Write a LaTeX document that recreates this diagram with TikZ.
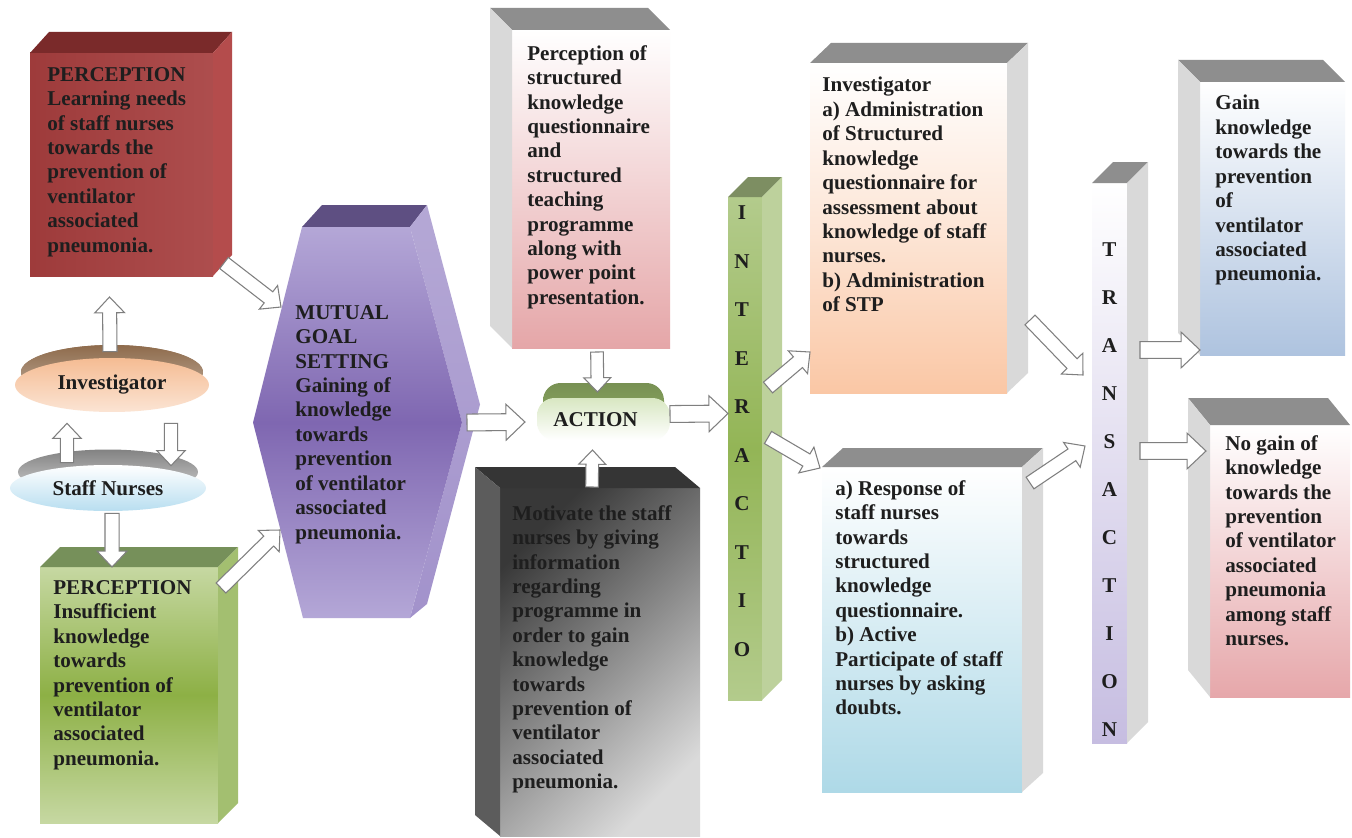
\documentclass[tikz,border=0pt]{standalone}
\usepackage{fontspec}
\setmainfont{Liberation Serif}
\usepackage{tikz}
\usetikzlibrary{calc,fit,positioning,shapes.geometric}
\definecolor{inktext}{HTML}{1E1E1E}
\definecolor{arrowgray}{HTML}{7F7F7F}
\definecolor{boxtop}{HTML}{8E8E8E}
\definecolor{boxside}{HTML}{D9D9D9}
\definecolor{redfront}{HTML}{A63E3E}
\definecolor{redtop}{HTML}{7A2A2A}
\definecolor{redside}{HTML}{B44C4C}
\definecolor{greenfront}{HTML}{8DB045}
\definecolor{greenlight}{HTML}{C6D8A2}
\definecolor{greentop}{HTML}{76905A}
\definecolor{greenside}{HTML}{A3BF70}
\definecolor{goalmid}{HTML}{7F67B1}
\definecolor{goallight}{HTML}{B4A7D7}
\definecolor{goaltop}{HTML}{5E4F82}
\definecolor{goalside}{HTML}{A292CB}
\definecolor{planpink}{HTML}{E5A6A8}
\definecolor{motivdark}{HTML}{383838}
\definecolor{motivlight}{HTML}{DADADA}
\definecolor{motivtop}{HTML}{353535}
\definecolor{motivside}{HTML}{5C5C5C}
\definecolor{actiongreen}{HTML}{8DAA62}
\definecolor{actionlight}{HTML}{D8E7C2}
\definecolor{colgreen}{HTML}{93B556}
\definecolor{colgreenlight}{HTML}{B3CB8C}
\definecolor{colgreentop}{HTML}{7D8E62}
\definecolor{colgreenside}{HTML}{BDD19C}
\definecolor{invpeach}{HTML}{FAC7A5}
\definecolor{respblue}{HTML}{AED9E7}
\definecolor{translav}{HTML}{C6BDE1}
\definecolor{gainblue}{HTML}{AEC3DF}
\definecolor{nogainpink}{HTML}{E6A7AA}
\definecolor{diskpeach}{HTML}{F5BC93}
\definecolor{diskbrown}{HTML}{8E6B4C}
\definecolor{diskblue}{HTML}{B8DEF0}
\definecolor{diskgray}{HTML}{A3A3A3}

\newcommand{\boxfont}{\fontsize{12}{13.9}\selectfont\bfseries}

\newcommand{\depthright}[5]{%
  \fill[#4] (#1.north west) -- ++(#2,-#3) -- ($(#1.north east)+(#2,-#3)$) -- (#1.north east) -- cycle;
  \fill[#5] (#1.north east) -- ++(#2,-#3) -- ($(#1.south east)+(#2,-#3)$) -- (#1.south east) -- cycle;}
\newcommand{\depthleft}[5]{%
  \fill[#4] (#1.north east) -- ++(-#2,-#3) -- ($(#1.north west)+(-#2,-#3)$) -- (#1.north west) -- cycle;
  \fill[#5] (#1.north west) -- ++(-#2,-#3) -- ($(#1.south west)+(-#2,-#3)$) -- (#1.south west) -- cycle;}
\newcommand{\blockarrow}[3][1]{%
  \coordinate (arrowneck) at ($(#3)!#1*9pt!(#2)$);
  \draw[blockarr] ($(#2)!#1*4pt!90:(#3)$) -- ($(arrowneck)!#1*4pt!90:(#3)$)
    -- ($(arrowneck)!#1*8.5pt!90:(#3)$) -- (#3)
    -- ($(arrowneck)!#1*8.5pt!-90:(#3)$) -- ($(arrowneck)!#1*4pt!-90:(#3)$)
    -- ($(#2)!#1*4pt!-90:(#3)$) -- cycle;}

\begin{document}
\begin{tikzpicture}[
  x=0.02cm,
  y=-0.02cm,
  face/.style={inner sep=0pt, outer sep=0pt},
  txt/.style={font=\boxfont, align=left, inner sep=0pt, anchor=north west, text=inktext},
  letter/.style={font=\boxfont, inner sep=0pt, text=inktext},
  disk/.style={ellipse, inner sep=0pt, font=\boxfont, text=inktext},
  blockarr/.style={draw=arrowgray, fill=white, line width=0.6pt, line join=miter}
]

\fill[white] (0,0) rectangle (1352,838);
\useasboundingbox (0,0) rectangle (1352,838);

\node[face, fit={(30,53) (213,276)}, left color=redfront!95!black, right color=redfront!92!white] (percA) {};
\depthright{percA}{19}{21}{redtop}{redside}
\node[txt] (percAtext) at ($(percA.north west)+(17,14)$)
  {PERCEPTION\\Learning needs\\of staff nurses\\towards the\\prevention of\\ventilator\\associated\\pneumonia.};

\node[face, fit={(40,567) (218,823)}, top color=greenlight, bottom color=greenlight, middle color=greenfront] (percB) {};
\depthright{percB}{20}{20}{greentop}{greenside}
\node[txt] (percBtext) at ($(percB.north west)+(13,13)$)
  {PERCEPTION\\Insufficient\\knowledge\\towards\\prevention of\\ventilator\\associated\\pneumonia.};

\node[disk, fill=diskbrown, top color=diskbrown, bottom color=diskbrown!55!white,
  minimum width=3.64cm, minimum height=1.08cm] (invcap) at (112,372) {};
\node[disk, top color=diskpeach, bottom color=diskpeach!40!white,
  minimum width=3.88cm, minimum height=1.08cm] (invdisk) at (112,385) {Investigator};
\node[disk, top color=diskgray!80!black, bottom color=diskgray!50!white,
  minimum width=3.6cm, minimum height=0.9cm] (staffcap) at (108,472) {};
\node[disk, top color=white, bottom color=diskblue,
  minimum width=3.92cm, minimum height=0.92cm] (staffdisk) at (108,488) {Staff Nurses};

\node[face, fit={(253,227) (462,618)}] (goal) {};
\fill[goaltop] ($(goal.north west)+(49,0)$) -- ++(20,-22) -- ($(goal.north east)+(-35,-22)$)
  -- ($(goal.north east)+(-52,0)$) -- cycle;
\shade[top color=goalside!80!white, bottom color=goalside] ($(goal.north east)+(-52,0)$) -- ++(17,-22)
  -- ($(goal.east)+(18,-18)$) -- ($(goal.south east)+(-35,-14)$) -- ($(goal.south east)+(-52,0)$)
  -- (goal.east) -- cycle;
\shade[top color=goallight, bottom color=goallight, middle color=goalmid]
  ($(goal.north west)+(49,0)$) -- ($(goal.north east)+(-52,0)$) -- (goal.east)
  -- ($(goal.south east)+(-52,0)$) -- ($(goal.south west)+(50,0)$) -- (goal.west) -- cycle;
\node[txt] (goaltext) at ($(goal.north west)+(42,78)$)
  {MUTUAL\\GOAL\\SETTING\\Gaining of\\knowledge\\towards\\prevention\\of ventilator\\associated\\pneumonia.};

\node[face, fit={(512,30) (670,348)}, top color=white, bottom color=planpink] (plan) {};
\depthleft{plan}{22}{22}{boxtop}{boxside}
\node[txt] (plantext) at ($(plan.north west)+(15,15)$)
  {Perception of\\structured\\knowledge\\questionnaire\\and\\structured\\teaching\\programme\\along with\\power point\\presentation.};

\node[face, fit={(543,383) (664,425)}, rounded corners=10pt, top color=actiongreen!85!black, bottom color=actiongreen] (actioncap) {};
\node[face, fit={(537,398) (670,440)}, rounded corners=10pt, top color=actionlight, bottom color=white] (action) {};
\node[letter] (actiontext) at ($(action.center)+(-8,1)$) {ACTION};

\node[face, fit={(500,488) (700,836)}, top color=motivdark, bottom color=motivlight, shading angle=45] (motiv) {};
\depthleft{motiv}{25}{21}{motivtop}{motivside}
\node[txt] (motivtext) at ($(motiv.north west)+(12,17)$)
  {Motivate the staff\\nurses by giving\\information\\regarding\\programme in\\order to gain\\knowledge\\towards\\prevention of\\ventilator\\associated\\pneumonia.};

\node[face, fit={(728,197) (762,700)}, top color=colgreenlight, bottom color=colgreenlight, middle color=colgreen] (interCol) {};
\depthright{interCol}{20}{20}{colgreentop}{colgreenside}
\foreach \ch [count=\i] in {I,N,T,E,R,A,C,T,I,O}
  \node[letter] (interL\i) at ($(interCol.north)+(-3,{16+(\i-1)*48.5})$) {\ch};

\node[face, fit={(810,63) (1007,393)}, top color=white, bottom color=invpeach, middle color=invpeach!45!white] (inv) {};
\depthright{inv}{21}{20}{boxtop}{boxside}
\node[txt] (invtext) at ($(inv.north west)+(12,14)$)
  {Investigator\\a) Administration\\of Structured\\knowledge\\questionnaire for\\assessment about\\knowledge of staff\\nurses.\\b) Administration\\of STP};

\node[face, fit={(822,467) (1022,792)}, top color=white, bottom color=respblue] (resp) {};
\depthright{resp}{21}{19}{boxtop}{boxside}
\node[txt] (resptext) at ($(resp.north west)+(13,13)$)
  {a) Response of\\staff nurses\\towards\\structured\\knowledge\\questionnaire.\\b) Active\\Participate of staff\\nurses by asking\\doubts.};

\node[face, fit={(1092,183) (1127,743)}, top color=white, bottom color=translav] (transCol) {};
\depthright{transCol}{21}{21}{boxtop}{boxside}
\foreach \ch [count=\i] in {T,R,A,N,S,A,C,T,I,O,N}
  \node[letter] (transL\i) at ($(transCol.north)+(0,{67+(\i-1)*48})$) {\ch};

\node[face, fit={(1200,82) (1345,355)}, top color=white, bottom color=gainblue] (gain) {};
\depthleft{gain}{22}{22}{boxtop}{boxside}
\node[txt] (gaintext) at ($(gain.north west)+(15,13)$)
  {Gain\\knowledge\\towards the\\prevention\\of\\ventilator\\associated\\pneumonia.};

\node[face, fit={(1210,425) (1350,697)}, top color=white, bottom color=nogainpink] (nogain) {};
\depthleft{nogain}{22}{27}{boxtop}{boxside}
\node[txt] (nogaintext) at ($(nogain.north west)+(15,10)$)
  {No gain of\\knowledge\\towards the\\prevention\\of ventilator\\associated\\pneumonia\\among staff\\nurses.};

\coordinate (percA-out) at ($(percA.south east)+(11,-13)$);
\coordinate (goal-inA) at ($(goal.north west)+(28,80)$);
\coordinate (percB-out) at ($(percB.north east)+(3,21)$);
\coordinate (goal-inB) at ($(goal.south west)+(27,-88)$);
\coordinate (invdisk-up) at ($(invdisk.north)+(-2,-6)$);
\coordinate (percA-in) at ($(percA.south)+(-12,21)$);
\coordinate (staffdisk-up) at ($(staffdisk.north)+(-41,-2)$);
\coordinate (invdisk-inS) at ($(invdisk.south)+(-45,11)$);
\coordinate (invdisk-down) at ($(invdisk.south)+(59,11)$);
\coordinate (staffdisk-inI) at ($(staffdisk.north)+(63,1)$);
\coordinate (staffdisk-down) at ($(staffdisk.south)+(4,2)$);
\coordinate (percB-in) at ($(percB.north)+(-17,0)$);
\coordinate (goal-out) at ($(goal.east)+(5,0)$);
\coordinate (action-inG) at ($(action.west)+(-12,3)$);
\coordinate (action-out) at ($(action.east)+(0,-5)$);
\coordinate (interCol-in) at ($(interCol.west)+(0,-35)$);
\coordinate (plan-out) at ($(plan.south)+(6,4)$);
\coordinate (action-inP) at ($(action.north)+(-6,-6)$);
\coordinate (motiv-out) at ($(motiv.north)+(-8,-1)$);
\coordinate (action-inM) at ($(action.south)+(-11,10)$);
\coordinate (interCol-outA) at ($(interCol.east)+(6,-61)$);
\coordinate (inv-in) at ($(inv.south west)+(0,-41)$);
\coordinate (interCol-outB) at ($(interCol.east)+(6,-11)$);
\coordinate (resp-in) at ($(resp.north west)+(-2,1)$);
\coordinate (inv-out) at ($(inv.south east)+(23,-73)$);
\coordinate (transCol-inA) at ($(transCol.west)+(-9,-88)$);
\coordinate (resp-out) at ($(resp.north east)+(8,16)$);
\coordinate (transCol-inB) at ($(transCol.west)+(-7,-17)$);
\coordinate (transCol-outA) at ($(transCol.east)+(13,-113)$);
\coordinate (gain-in) at ($(gain.south west)+(0,-5)$);
\coordinate (transCol-outB) at ($(transCol.east)+(13,-12)$);
\coordinate (nogain-in) at ($(nogain.north west)+(-4,26)$);

\blockarrow{percA-out}{goal-inA}
\blockarrow{percB-out}{goal-inB}
\blockarrow{invdisk-up}{percA-in}
\blockarrow[0.95]{staffdisk-up}{invdisk-inS}
\blockarrow[0.95]{invdisk-down}{staffdisk-inI}
\blockarrow{staffdisk-down}{percB-in}
\blockarrow[1.2]{goal-out}{action-inG}
\blockarrow[1.2]{action-out}{interCol-in}
\blockarrow[0.9]{plan-out}{action-inP}
\blockarrow[0.9]{motiv-out}{action-inM}
\blockarrow{interCol-outA}{inv-in}
\blockarrow{interCol-outB}{resp-in}
\blockarrow{inv-out}{transCol-inA}
\blockarrow{resp-out}{transCol-inB}
\blockarrow[1.2]{transCol-outA}{gain-in}
\blockarrow[1.2]{transCol-outB}{nogain-in}

\end{tikzpicture}
\end{document}
